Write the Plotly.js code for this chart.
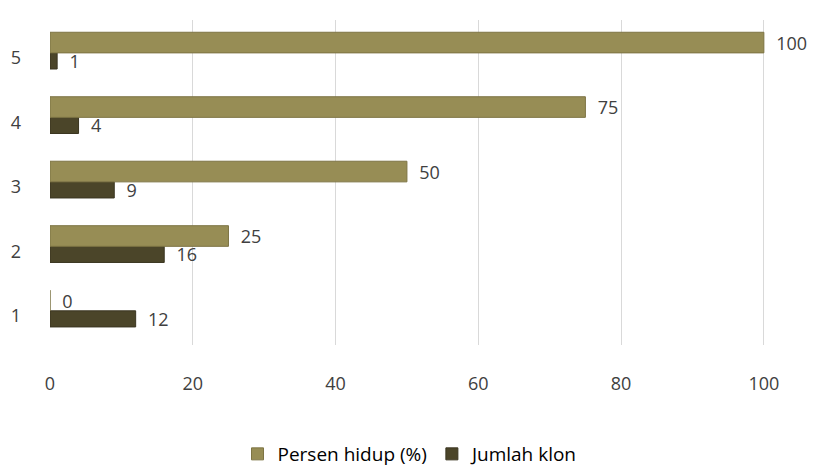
<!DOCTYPE html>
<html>
<head>
<meta charset="utf-8">
<script src="https://cdn.plot.ly/plotly-3.0.1.min.js"></script>
<style>html,body{margin:0;padding:0;background:#fff;}#chart{width:813px;height:470px;}</style>
</head>
<body>
<div id="chart"></div>
<script>
const categories = ["1", "2", "3", "4", "5"];
const persenHidup = [0, 25, 50, 75, 100];
const jumlahKlon = [12, 16, 9, 4, 1];
const seriesNames = ["Persen hidup (%)", "Jumlah klon"];
const xTicks = [0, 20, 40, 60, 80, 100];

const font = {family: "Open Sans, Noto Sans, sans-serif", size: 18, color: "#404040"};

const traces = [
  {
    type: "bar", orientation: "h",
    name: seriesNames[1],
    y: categories.map(Number), x: jumlahKlon,
    offset: -0.17, width: 0.25,
    marker: {color: "#4b4529", line: {color: "#3a3520", width: 1}},
    text: jumlahKlon.map(v => "  " + v), textposition: "outside",
    textfont: font, outsidetextfont: font, constraintext: "none", cliponaxis: false,
    legendrank: 2
  },
  {
    type: "bar", orientation: "h",
    name: seriesNames[0],
    y: categories.map(Number), x: persenHidup,
    offset: 0.08, width: 0.32,
    marker: {color: "#978d55", line: {color: "#7d7444", width: 1}},
    text: persenHidup.map(v => "  " + v), textposition: "outside",
    textfont: font, outsidetextfont: font, constraintext: "none", cliponaxis: false,
    legendrank: 1
  }
];

const layout = {
  width: 813, height: 470,
  margin: {l: 50, r: 42, t: 20, b: 125, autoexpand: false},
  paper_bgcolor: "#ffffff", plot_bgcolor: "#ffffff",
  barmode: "overlay",
  showlegend: true,
  legend: {orientation: "h", x: 0.5, xanchor: "center", yref: "container", y: 0.034, yanchor: "middle",
           itemwidth: 30, tracegroupgap: 0,
           font: {family: "Open Sans, Noto Sans, sans-serif", size: 19, color: "#000"}},
  xaxis: {
    range: [0, 101], tickvals: xTicks, ticktext: xTicks.map(String),
    showgrid: true, gridcolor: "#d9d9d9", zeroline: false,
    showline: false, ticks: "", ticklabelstandoff: 26, automargin: false,
    tickfont: font, fixedrange: true
  },
  yaxis: {
    range: [0.55, 5.59], tickvals: categories.map(Number), ticktext: categories,
    showgrid: false, zeroline: false, showline: false, ticks: "",
    ticklabelstandoff: 28, automargin: false, tickfont: font, fixedrange: true
  },
  font: font
};

Plotly.newPlot("chart", traces, layout, {displayModeBar: false, staticPlot: true});
</script>
</body>
</html>
